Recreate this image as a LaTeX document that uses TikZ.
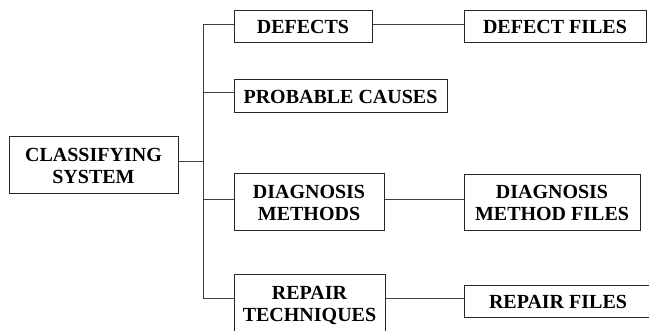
\documentclass[tikz,border=0pt]{standalone}
\usepackage{fontspec}
\setmainfont{Liberation Serif}
\usetikzlibrary{positioning}

\tikzset{
  box/.style={draw=black!85, line width=1pt, inner sep=0pt, align=center,
    font=\bfseries\fontsize{20}{22}\selectfont},
  link/.style={draw=black!75, line width=1pt}
}

\begin{document}
\begin{tikzpicture}[x=1pt, y=-1pt]
    \useasboundingbox (0,0) rectangle (649,331);

    % Caixa principal
    \node[box, minimum width=169pt, minimum height=57pt] (cls) at (93.5,165.5) {CLASSIFYING\\SYSTEM};

    % Ramos do meio
    \node[box, minimum width=138pt, minimum height=32pt] (def) at (303,27) {DEFECTS};
    \node[box, minimum width=213pt, minimum height=33pt] (prob) at (340.5,96.5) {PROBABLE CAUSES};
    \node[box, minimum width=150pt, minimum height=57pt] (diag) at (309,202.5) {DIAGNOSIS\\METHODS};
    \node[box, minimum width=151pt, minimum height=62pt] (rep) at (309.5,306) {REPAIR\\TECHNIQUES};

    % Arquivos
    \node[box, minimum width=182pt, minimum height=32pt] (deff) at (555,27) {DEFECT FILES};
    \node[box, minimum width=176pt, minimum height=56pt] (diagf) at (552,203) {DIAGNOSIS\\METHOD FILES};
    \node[box, minimum width=188pt, minimum height=32pt] (repf) at (558,302) {REPAIR FILES};

    % Barramento vertical
    \coordinate (b1) at (203,25);
    \coordinate (b2) at (203,93);
    \coordinate (bc) at (203,162);
    \coordinate (b3) at (203,200);
    \coordinate (b4) at (203,299);
    \draw[link] (b1) -- (b4);
    \draw[link] (bc -| cls.east) -- (bc);

    % Ligacoes aos ramos
    \draw[link] (b1) -- (b1 -| def.west);
    \draw[link] (b2) -- (b2 -| prob.west);
    \draw[link] (b3) -- (b3 -| diag.west);
    \draw[link] (b4) -- (b4 -| rep.west);

    % Ligacoes aos arquivos
    \draw[link] (b1 -| def.east) -- (b1 -| deff.west);
    \draw[link] (b3 -| diag.east) -- (b3 -| diagf.west);
    \draw[link] (b4 -| rep.east) -- (b4 -| repf.west);

\end{tikzpicture}
\end{document}
